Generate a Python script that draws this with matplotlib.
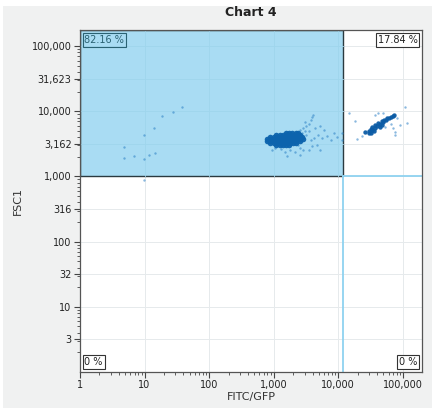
import numpy as np
import matplotlib
matplotlib.use("Agg")
import matplotlib.pyplot as plt
from matplotlib.patches import Rectangle
from matplotlib.ticker import FixedLocator, FixedFormatter, LogLocator, NullFormatter

# ---------------- data (log10 of FITC/GFP and FSC1) ----------------
# dense core of the main population
core_lx = [3.19, 3.24, 3.29, 3.34, 3.38,
           3.04, 3.09, 3.14, 3.19, 3.24, 3.29, 3.34, 3.39, 3.41,
           2.95, 3.00, 3.05, 3.10, 3.15, 3.20, 3.25, 3.30, 3.35, 3.40, 3.44,
           2.90, 2.95, 3.00, 3.05, 3.10, 3.15, 3.20, 3.25, 3.30, 3.35, 3.40, 3.45,
           2.90, 2.95, 3.00, 3.05, 3.10, 3.15, 3.20, 3.25, 3.30, 3.35, 3.41,
           2.95, 3.00, 3.05, 3.10, 3.15, 3.20, 3.25, 3.30, 3.35,
           3.04, 3.09, 3.14, 3.19, 3.24]
core_ly = [3.67] * 5 + [3.64] * 9 + [3.61] * 11 + [3.58] * 12 + [3.55] * 11 + [3.52] * 9 + [3.49] * 5

# dense core of the GFP-positive population
core2_lx = [4.42, 4.47, 4.50, 4.53, 4.53, 4.57, 4.57, 4.60, 4.62, 4.65, 4.67, 4.70,
            4.71, 4.74, 4.76, 4.79, 4.81, 4.84, 4.87, 4.48, 4.51, 4.56, 4.64, 4.68]
core2_ly = [3.68, 3.70, 3.73, 3.71, 3.76, 3.75, 3.79, 3.78, 3.82, 3.81, 3.85, 3.84,
            3.87, 3.87, 3.90, 3.90, 3.91, 3.93, 3.94, 3.67, 3.67, 3.70, 3.76, 3.79]

# sparse events
sparse_lx = [1.586, 1.437, 1.271, 1.143, 0.992, 0.687, 0.687, 0.837, 0.988, 1.074, 1.167, 0.988,
             3.41, 3.46, 3.50, 3.54, 3.49, 3.57, 3.60, 3.61, 3.38, 3.41, 3.46, 3.26, 3.18, 3.02,
             2.98, 3.57, 3.63, 3.69, 3.75, 3.83, 3.88, 3.94, 3.98, 3.67, 3.72, 3.54, 3.60, 3.50,
             3.55, 3.64, 3.72, 3.78, 3.12, 3.33, 3.40, 3.21, 3.49, 3.44, 4.05, 4.06,
             4.16, 4.26, 4.29, 5.04, 5.07, 4.88, 4.88, 4.85, 4.96, 4.70, 4.57, 4.62, 4.91,
             4.81, 4.73, 4.37]
sparse_ly = [4.063, 3.991, 3.934, 3.750, 3.639, 3.450, 3.282, 3.322, 3.271, 3.337, 3.358, 2.950,
             3.72, 3.75, 3.78, 3.81, 3.84, 3.87, 3.91, 3.95, 3.49, 3.44, 3.41, 3.41, 3.38, 3.44,
             3.41, 3.56, 3.59, 3.64, 3.59, 3.62, 3.56, 3.67, 3.61, 3.49, 3.41, 3.41, 3.47, 3.64,
             3.70, 3.75, 3.78, 3.72, 3.42, 3.38, 3.33, 3.32, 3.70, 3.67, 3.67, 3.56,
             3.98, 3.85, 3.58, 4.07, 3.82, 3.68, 3.64, 3.75, 3.79, 3.98, 3.94, 3.97, 3.90,
             3.81, 3.76, 3.62]

core_x = 10 ** np.array(core_lx); core_y = 10 ** np.array(core_ly)
core2_x = 10 ** np.array(core2_lx); core2_y = 10 ** np.array(core2_ly)
sparse_x = 10 ** np.array(sparse_lx); sparse_y = 10 ** np.array(sparse_ly)

gate_x = 12000       # vertical gate threshold (FITC/GFP)
gate_y = 1000        # horizontal gate threshold (FSC1)
pct_labels = ["82.16 %", "17.84 %", "0 %", "0 %"]

y_tick_vals = [3.162, 10, 31.62, 100, 316.2, 1000, 3162, 10000, 31623, 100000]
y_tick_labels = ["3", "10", "32", "100", "316", "1,000", "3,162", "10,000", "31,623", "100,000"]
x_tick_vals = [1, 10, 100, 1000, 10000, 100000]
x_tick_labels = ["1", "10", "100", "1,000", "10,000", "100,000"]

xmin, xmax = 1, 1.98e5
ymin, ymax = 1, 1.77e5

# ---------------- figure ----------------
fig = plt.figure(figsize=(4.32, 4.08), dpi=100, facecolor="white")
fig.patches.append(Rectangle((3 / 432, 0), 1, (408 - 6) / 408, transform=fig.transFigure,
                             facecolor="#f0f1f1", edgecolor="none", zorder=-10))
ax = fig.add_axes([80 / 432, 36 / 408, 342 / 432, 342 / 408])
ax.set_facecolor("white")
ax.set_xscale("log")
ax.set_yscale("log")
ax.set_xlim(xmin, xmax)
ax.set_ylim(ymin, ymax)

# gate region (upper-left quadrant)
ax.add_patch(Rectangle((xmin, gate_y), gate_x - xmin, ymax - gate_y, facecolor="#a9dcf3",
                       edgecolor="#2b3a40", linewidth=1.0, zorder=1))
ax.plot([gate_x, gate_x], [ymin, gate_y], color="#8fd2f0", lw=1.3, zorder=1)
ax.plot([gate_x, xmax], [gate_y, gate_y], color="#8fd2f0", lw=1.3, zorder=1)

# grid
for v in x_tick_vals:
    ax.axvline(v, color="#e6eaec", lw=0.7, zorder=0.5)
for v in y_tick_vals:
    ax.axhline(v, color="#e6eaec", lw=0.7, zorder=0.5)
for v in x_tick_vals[1:5]:
    ax.plot([v, v], [gate_y, ymax], color="#9fd5ec", lw=0.6, zorder=1.2)
for v in y_tick_vals[6:]:
    ax.plot([xmin, gate_x], [v, v], color="#9fd5ec", lw=0.6, zorder=1.2)

# events
ax.scatter(sparse_x, sparse_y, s=3, color="#2a7fc4", alpha=0.55, linewidths=0, zorder=3)
ax.scatter(core_x, core_y, s=16, color="#0c63ad", alpha=0.95, linewidths=0, zorder=3)
ax.scatter(core2_x, core2_y, s=10, color="#0c5ca6", alpha=0.95, linewidths=0, zorder=3)

# ticks
ax.xaxis.set_major_locator(FixedLocator(x_tick_vals))
ax.xaxis.set_major_formatter(FixedFormatter(x_tick_labels))
ax.xaxis.set_minor_locator(LogLocator(base=10, subs=np.arange(2, 10), numticks=20))
ax.xaxis.set_minor_formatter(NullFormatter())
ax.yaxis.set_major_locator(FixedLocator(y_tick_vals))
ax.yaxis.set_major_formatter(FixedFormatter(y_tick_labels))
ax.yaxis.set_minor_locator(LogLocator(base=10, subs=np.arange(2, 10), numticks=20))
ax.yaxis.set_minor_formatter(NullFormatter())
ax.tick_params(which="major", length=4, width=0.8, color="#444", labelsize=7, labelcolor="#222", pad=2)
ax.tick_params(which="minor", length=2, width=0.6, color="#444")
for s in ax.spines.values():
    s.set_color("#555")
    s.set_linewidth(0.9)

# percentage labels
bb_teal = dict(boxstyle="square,pad=0.2", facecolor="none", edgecolor="#2a6273", lw=0.8)
bb_dark = dict(boxstyle="square,pad=0.2", facecolor="white", edgecolor="#333333", lw=0.8)
ax.text(0.013, 0.986, pct_labels[0], transform=ax.transAxes, ha="left", va="top",
        fontsize=7, color="#2a6273", bbox=bb_teal, zorder=5)
ax.text(0.987, 0.986, pct_labels[1], transform=ax.transAxes, ha="right", va="top",
        fontsize=7, color="#222", bbox=bb_dark, zorder=5)
ax.text(0.013, 0.014, pct_labels[2], transform=ax.transAxes, ha="left", va="bottom",
        fontsize=7, color="#222", bbox=bb_dark, zorder=5)
ax.text(0.987, 0.014, pct_labels[3], transform=ax.transAxes, ha="right", va="bottom",
        fontsize=7, color="#222", bbox=bb_dark, zorder=5)

fig.text(251 / 432, 1 - 13 / 408, "Chart 4", ha="center", va="center", fontsize=9,
         fontweight="bold", color="#222")
fig.text(251 / 432, 1 - 397 / 408, "FITC/GFP", ha="center", va="center", fontsize=8, color="#333")
fig.text(18 / 432, 1 - 201 / 408, "FSC1", ha="center", va="center", rotation=90, fontsize=8, color="#333")

fig.savefig("out.png", dpi=100, facecolor=fig.get_facecolor())
